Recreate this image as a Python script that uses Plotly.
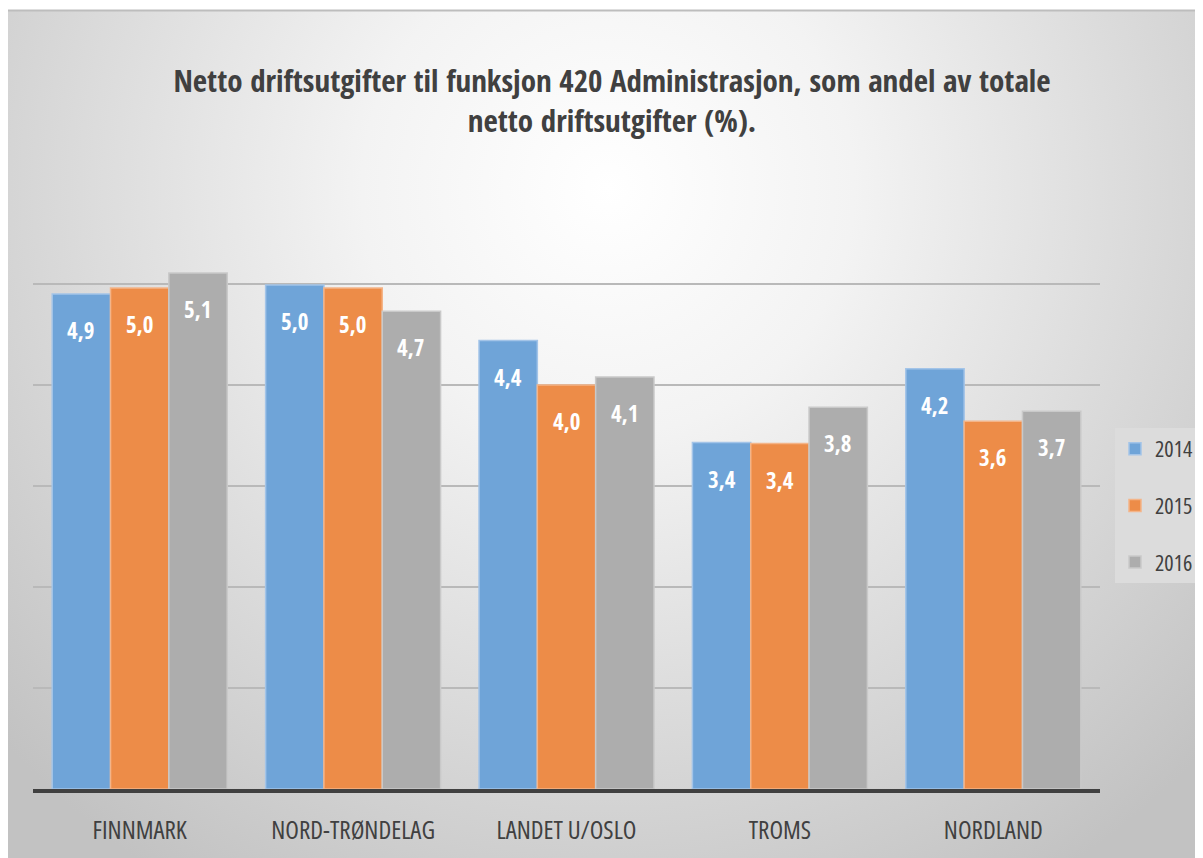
import plotly.graph_objects as go
import base64

categories = ["FINNMARK", "NORD-TRØNDELAG", "LANDET U/OSLO", "TROMS", "NORDLAND"]
years = ["2014", "2015", "2016"]
values_2014 = [4.90, 4.99, 4.44, 3.43, 4.16]
values_2015 = [4.96, 4.96, 4.00, 3.42, 3.64]
values_2016 = [5.11, 4.73, 4.08, 3.78, 3.74]
series = [values_2014, values_2015, values_2016]

colors = ["#6fa4d8", "#ed8c48", "#adadad"]
edge_colors = ["#a3c4e8", "#f4b488", "#c9c9c9"]

BOLD_FONT = "Open Sans Condensed"
FONT = "Open Sans"


def cond(s):
    return f"<span style='font-stretch:condensed'>{s}</span>"


OFF = 8  # page body margin
W, H = 1203 - OFF, 858 - OFF
ml, mr, mt, mb = 33 - OFF, 103, 183 - OFF, 69
pw, ph = W - ml - mr, H - mt - mb
bargap = 0.18

fig = go.Figure()
for name, vals, c, ec in zip(years, series, colors, edge_colors):
    fig.add_trace(go.Bar(
        x=categories, y=vals, name=cond(name), legendgroup=name,
        marker=dict(color=c, line=dict(color=ec, width=1.5)),
        hoverinfo="skip",
    ))

# value labels inside bars, near the top
cat_px = pw / len(categories)
bar_px = cat_px * (1 - bargap) / len(series)
for i, vals in enumerate(series):
    for cat, v in zip(categories, vals):
        fig.add_annotation(
            x=cat, y=v, xref="x", yref="y",
            text=f"{v:.1f}".replace(".", ","),
            showarrow=False, xshift=(i - 1) * bar_px, yshift=-36,
            font=dict(family=BOLD_FONT, size=23, color="white", weight="bold"),
        )

svg = f'''<svg xmlns="http://www.w3.org/2000/svg" width="{W}" height="{H}" viewBox="0 0 {W} {H}">
<defs><radialGradient id="g" gradientUnits="userSpaceOnUse" cx="600" cy="180" r="820">
<stop offset="0" stop-color="#ffffff"/><stop offset="0.3" stop-color="#f3f3f3"/><stop offset="1" stop-color="#c2c2c2"/></radialGradient></defs>
<rect x="0" y="0" width="{W}" height="{H}" fill="#ffffff"/>
<rect x="0" y="2" width="{W}" height="{H-2}" fill="url(#g)"/>
<line x1="0" y1="2.5" x2="{W}" y2="2.5" stroke="#bdbdbd" stroke-width="2"/>
</svg>'''
src = "data:image/svg+xml;base64," + base64.b64encode(svg.encode()).decode()
fig.add_layout_image(dict(
    source=src, xref="paper", yref="paper",
    x=-ml / pw, y=1 + mt / ph, sizex=W / pw, sizey=H / ph,
    xanchor="left", yanchor="top", sizing="stretch", layer="below",
))

fig.update_layout(
    width=W, height=H,
    margin=dict(l=ml, r=mr, t=mt, b=mb, autoexpand=False),
    paper_bgcolor="white", plot_bgcolor="rgba(0,0,0,0)",
    barmode="group", bargap=bargap, bargroupgap=0,
    title=dict(
        text="<b>Netto driftsutgifter til funksjon 420 Administrasjon, som andel av totale<br>netto driftsutgifter (%).</b>",
        x=(612 - OFF) / W, xref="container", xanchor="center",
        y=1 - (92 - OFF) / H, yref="container", yanchor="middle",
        font=dict(family=BOLD_FONT, size=31, color="#404040"),
    ),
    legend=dict(
        x=(1115 - OFF - ml) / pw, y=(H - mb - (428 - OFF)) / ph, xanchor="left", yanchor="top",
        bgcolor="#dcdcdc", tracegroupgap=25,
        font=dict(family=FONT, size=22, color="#404040"),
        itemwidth=30,
    ),
    showlegend=True,
)
fig.update_xaxes(
    showline=True, linecolor="#404040", linewidth=4,
    showgrid=False, ticks="", ticklabelstandoff=16,
    tickvals=categories, ticktext=[cond(c) for c in categories],
    tickfont=dict(family=FONT, size=25, color="#404040"),
)
fig.update_yaxes(
    range=[0, 6], dtick=1, showgrid=True, gridcolor="#b9b9b9", gridwidth=2,
    showticklabels=False, zeroline=False, fixedrange=True,
)

fig.write_html("out.html")
